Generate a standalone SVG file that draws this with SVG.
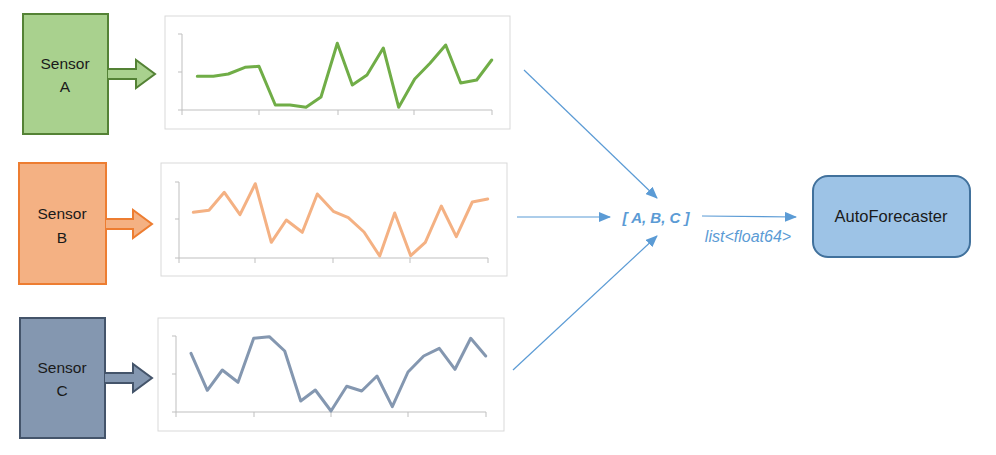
<svg xmlns="http://www.w3.org/2000/svg" width="996" height="455" viewBox="0 0 996 455">
<defs>
<style>
.lbl{font-family:"Liberation Sans",Arial,sans-serif;font-size:15.5px;fill:#1a1a1a;text-anchor:middle}
.frame{fill:#fff;stroke:#d9d9d9;stroke-width:1}
.axis{fill:none;stroke:#bfbfbf;stroke-width:1}
.series{fill:none;stroke-width:3;stroke-linejoin:round;stroke-linecap:round}
.conn{fill:none;stroke:#5b9bd5;stroke-width:1.2}
.blue{font-family:"Liberation Sans",Arial,sans-serif;fill:#5b9bd5;font-style:italic}
</style>
<marker id="ah" viewBox="0 0 12 10" refX="11" refY="5" markerWidth="12" markerHeight="10" markerUnits="userSpaceOnUse" orient="auto">
<path d="M0,0 L12,5 L0,10 Z" fill="#5b9bd5"/>
</marker>
</defs>
<rect width="996" height="455" fill="#fff"/>

<g id="sensorA">
<rect x="23" y="14" width="85" height="120" fill="#a9d18e" stroke="#548235" stroke-width="2"/>
<text class="lbl" x="65" y="69">Sensor</text>
<text class="lbl" x="65" y="92">A</text>
<path d="M108,69 H136 V60 L155,74 L136,88 V79 H108" fill="#a9d18e" stroke="#548235" stroke-width="2"/>
</g>
<g id="chartA">
<rect class="frame" x="165" y="16" width="345" height="113"/>
<path class="axis" d="M182,34 V110 M178,34 H182 M178,72 H182 M178,110 H492 M182,110 V115 M259,110 V115 M338,110 V115 M414,110 V115 M492,110 V115"/>
<polyline class="series" stroke="#70ad47" points="197.3,76.3 213.3,76.3 228.3,74 245,67.3 259,66.3 275.3,105 290,105 306,107.3 321,97 337.3,43.3 352.3,85 367,75 383.3,48 398.7,107.3 414.7,79 430,63.3 445.7,45 460.7,83 476.7,80 491.7,60"/>
</g>

<g id="sensorB">
<rect x="19" y="163" width="87" height="121" fill="#f4b183" stroke="#ed7d31" stroke-width="2"/>
<text class="lbl" x="62" y="219">Sensor</text>
<text class="lbl" x="62" y="243">B</text>
<path d="M106,219 H133 V210 L152,224 L133,238 V229 H106" fill="#f4b183" stroke="#ed7d31" stroke-width="2"/>
</g>
<g id="chartB">
<rect class="frame" x="161" y="163" width="346" height="113"/>
<path class="axis" d="M179,182 V258 M175,182 H179 M175,219 H179 M175,258 H488 M179,258 V263 M255,258 V263 M333,258 V263 M410,258 V263 M488,258 V263"/>
<polyline class="series" stroke="#f4b183" points="193.3,212.3 209,210.3 224.3,192.3 240,214.7 255.3,183.7 271.3,242.3 286.3,220 302.3,232.3 317.3,194 333.3,211.3 348.3,217.7 364,232 379.7,256 394.7,213 410.7,255.7 425.3,242.3 441.3,206 456.3,236.7 472.3,202 487.7,199"/>
</g>

<g id="sensorC">
<rect x="20" y="318" width="85" height="120" fill="#8497b0" stroke="#44546a" stroke-width="2"/>
<text class="lbl" x="62" y="373">Sensor</text>
<text class="lbl" x="62" y="396">C</text>
<path d="M105,373 H133 V364 L152,378 L133,392 V383 H105" fill="#8497b0" stroke="#44546a" stroke-width="2"/>
</g>
<g id="chartC">
<rect class="frame" x="158" y="318" width="346" height="113"/>
<path class="axis" d="M176,336 V412 M172,336 H176 M172,374 H176 M172,412 H486 M176,412 V417 M254,412 V417 M331,412 V417 M408,412 V417 M486,412 V417"/>
<polyline class="series" stroke="#8497b0" points="191,353.3 207.3,390.3 222.3,370 238,382.3 253.7,338.3 269.3,336.7 284.7,351 300.7,401 315.3,390 331,411 346.7,386.3 361.7,391 377,376 392.3,406.7 408,372 423.7,356 439.3,348.3 455,369.3 470.7,338.3 485.7,356"/>
</g>

<g id="combined">
<text class="blue" x="656" y="223" font-size="15" font-weight="bold" text-anchor="middle">[ A, B, C ]</text>
</g>

<g id="autoforecaster">
<rect x="813" y="176" width="157" height="81" rx="15" ry="15" fill="#9dc3e6" stroke="#41719c" stroke-width="2"/>
<text class="lbl" x="891" y="222" style="font-size:16.5px">AutoForecaster</text>
</g>

<g id="connectors">
<line class="conn" x1="524" y1="70" x2="657" y2="198" marker-end="url(#ah)"/>
<line class="conn" x1="517" y1="217" x2="610" y2="217" marker-end="url(#ah)"/>
<line class="conn" x1="513" y1="370" x2="657" y2="236" marker-end="url(#ah)"/>
<line class="conn" x1="702" y1="216" x2="796" y2="217" marker-end="url(#ah)"/>
<text class="blue" x="748" y="242" font-size="16" text-anchor="middle">list&lt;float64&gt;</text>
</g>
</svg>
